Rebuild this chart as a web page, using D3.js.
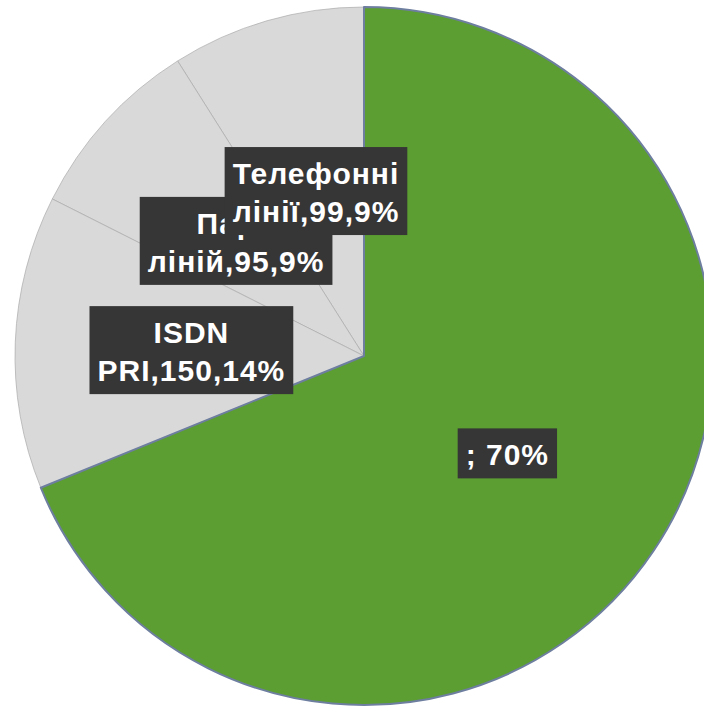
<!DOCTYPE html>
<html>
<head>
<meta charset="utf-8">
<script src="https://cdn.jsdelivr.net/npm/d3@7"></script>
<style>
  body { margin: 0; background: #fff; }
  svg { display: block; }
</style>
</head>
<body>
<div id="pie-chart"></div>
<script>
// data
const names = ["", "ISDN PRI", "Пари ліній", "Телефонні лінії"];
const values = [760, 150, 95, 99];
const labelLines = [
    ["; 70%"],
    ["ISDN", "PRI,150,14%"],
    ["Пари", "ліній,95,9%"],
    ["Телефонні", "лінії,99,9%"]
];
const colors = ["#5c9e31", "#d9d9d9", "#d9d9d9", "#d9d9d9"];

const drawPie = () => {
    const w = 704, h = 708;
    const radius = 349;
    const cx = 364, cy = 356;

    const svg = d3.select("#pie-chart").append("svg")
        .attr("width", w)
        .attr("height", h);

    const g = svg.append("g")
        .attr("transform", `translate(${cx},${cy})`);

    const data = names.map((n, i) => ({ name: n, value: values[i], lines: labelLines[i], color: colors[i] }));

    const pie = d3.pie().sort(null).value(d => d.value);
    const arc = d3.arc().innerRadius(0).outerRadius(radius);
    const labelArc = d3.arc().innerRadius(radius * 0.495).outerRadius(radius * 0.495);

    const arcs = pie(data);

    // grey slices first, green on top so its outline stays visible
    g.selectAll("path.slice")
        .data(arcs.slice().reverse())
        .join("path")
        .attr("class", "slice")
        .attr("d", arc)
        .attr("fill", d => d.data.color)
        .attr("stroke", d => d.index === 0 ? "#6d7e9f" : "#ababab")
        .attr("stroke-width", d => d.index === 0 ? 2 : 0.7)
        .attr("stroke-linejoin", "round");

    // labels - dark boxes, later ones cover earlier ones
    const fontSize = 30, lineH = 38;
    arcs.forEach(d => {
        const [lx, ly] = labelArc.centroid(d);
        const n = d.data.lines.length;
        const lg = g.append("g");
        const rect = lg.append("rect").attr("fill", "#363636");
        const txt = lg.append("text")
            .attr("text-anchor", "middle")
            .attr("fill", "#fff")
            .style("font-family", "'Liberation Sans', Arial, sans-serif")
            .style("font-weight", "700")
            .style("font-size", fontSize + "px")
            .style("letter-spacing", "1px");
        d.data.lines.forEach((line, i) => {
            txt.append("tspan")
                .attr("x", lx)
                .attr("y", ly + (i - (n - 1) / 2) * lineH + 13)
                .text(line);
        });
        const bb = txt.node().getBBox();
        const first = ly - (n - 1) / 2 * lineH + 13;
        const last = ly + (n - 1) / 2 * lineH + 13;
        rect.attr("x", lx - bb.width / 2 - 8)
            .attr("width", bb.width + 16)
            .attr("y", first - 37)
            .attr("height", last - first + 37 + 13);
    });
};

drawPie();
</script>
</body>
</html>
